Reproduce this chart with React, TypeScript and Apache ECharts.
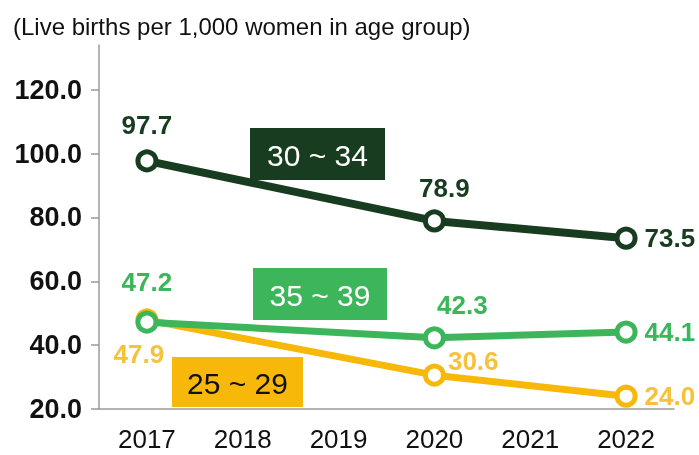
import React, { useEffect, useRef } from "react";
import * as echarts from "echarts";

const years = ["2017", "2018", "2019", "2020", "2021", "2022"];
const age3034 = [97.7, null, null, 78.9, null, 73.5];
const age3539 = [47.2, null, null, 42.3, null, 44.1];
const age2529 = [47.9, null, null, 30.6, null, 24.0];
const yTicks = [20, 40, 60, 80, 100, 120];
const titleText = "(Live births per 1,000 women in age group)";
const groupNames = ["30 ~ 34", "35 ~ 39", "25 ~ 29"];

const DARK = "#183c20";
const GREEN = "#3db65b";
const YELLOW = "#f8b80a";
const YELLOW_TXT = "#f5c23a";
const FONT = "'Liberation Sans', Arial, sans-serif";

type LabelSpec = { position: string; distance: number; offset?: [number, number] };

function buildData(values: (number | null)[], specs: Record<number, LabelSpec>, color: string) {
  return values.map((v, i) => {
    if (v === null) return null;
    const s = specs[i];
    return {
      value: v,
      label: {
        show: true,
        position: s.position,
        distance: s.distance,
        offset: s.offset || [0, 0],
        color,
        fontSize: 26,
        fontWeight: "bold",
        fontFamily: FONT,
        formatter: (p: any) => Number(p.value).toFixed(1),
      },
    };
  });
}

export default function App() {
  const ref = useRef<HTMLDivElement>(null);
  useEffect(() => {
    if (!ref.current) return;
    const chart = echarts.init(ref.current, null, { renderer: "svg" });

    const lineSeries = (name: string, data: any[], color: string, width: number, z: number) => ({
      name,
      type: "line",
      data,
      connectNulls: true,
      symbol: "circle",
      symbolSize: 18,
      z,
      lineStyle: { color, width },
      itemStyle: { color: "#ffffff", borderColor: color, borderWidth: 5 },
      emphasis: { disabled: true },
    });

    const box = (x: number, y: number, w: number, h: number, fill: string, txt: string, txtColor: string) => ({
      type: "group",
      x,
      y,
      children: [
        { type: "rect", shape: { x: 0, y: 0, width: w, height: h }, style: { fill } },
        {
          type: "text",
          x: w / 2,
          y: h / 2 + 1,
          style: {
            text: txt,
            fill: txtColor,
            font: `500 30px ${FONT}`,
            textAlign: "center",
            textVerticalAlign: "middle",
          },
        },
      ],
    });

    chart.setOption({
      animation: false,
      title: {
        text: titleText,
        left: 8,
        top: 9,
        textStyle: { fontSize: 24, fontWeight: "normal", color: "#111", fontFamily: FONT },
      },
      grid: { left: 99, right: 25, top: 45, bottom: 46 },
      xAxis: {
        type: "category",
        data: years,
        boundaryGap: true,
        axisLine: { show: true, lineStyle: { color: "#9a9a9a", width: 1.5 } },
        axisTick: { show: false },
        axisLabel: { fontSize: 26, color: "#111", margin: 17, fontFamily: FONT },
      },
      yAxis: {
        type: "value",
        min: 20,
        max: 134,
        splitLine: { show: false },
        axisLine: { show: true, lineStyle: { color: "#9a9a9a", width: 1.5 } },
        axisTick: { show: true, length: 8, customValues: yTicks, lineStyle: { color: "#9a9a9a", width: 1.5 } },
        axisLabel: {
          customValues: yTicks,
          fontSize: 27,
          fontWeight: "bold",
          color: "#111",
          margin: 17,
          fontFamily: FONT,
          formatter: (v: number) => v.toFixed(1),
        },
      },
      series: [
        lineSeries(
          groupNames[2],
          buildData(
            age2529,
            {
              0: { position: "bottom", distance: 10, offset: [-8, 0] },
              3: { position: "right", distance: 2, offset: [0, -14] },
              5: { position: "right", distance: 7 },
            },
            YELLOW_TXT
          ),
          YELLOW,
          7,
          2
        ),
        lineSeries(
          groupNames[1],
          buildData(
            age3539,
            {
              0: { position: "top", distance: 16 },
              3: { position: "top", distance: 8, offset: [28, 0] },
              5: { position: "right", distance: 7 },
            },
            GREEN
          ),
          GREEN,
          7,
          3
        ),
        lineSeries(
          groupNames[0],
          buildData(
            age3034,
            {
              0: { position: "top", distance: 11 },
              3: { position: "top", distance: 8, offset: [10, 0] },
              5: { position: "right", distance: 7 },
            },
            DARK
          ),
          DARK,
          8,
          4
        ),
      ],
      graphic: [
        box(250, 128, 135, 52, DARK, groupNames[0], "#ffffff"),
        box(253, 268, 134, 52, GREEN, groupNames[1], "#ffffff"),
        box(172, 357, 131, 50, YELLOW, groupNames[2], "#111111"),
      ],
    });
    return () => chart.dispose();
  }, []);
  return <div ref={ref} style={{ position: "fixed", left: 0, top: 0, width: 699, height: 455 }} />;
}
